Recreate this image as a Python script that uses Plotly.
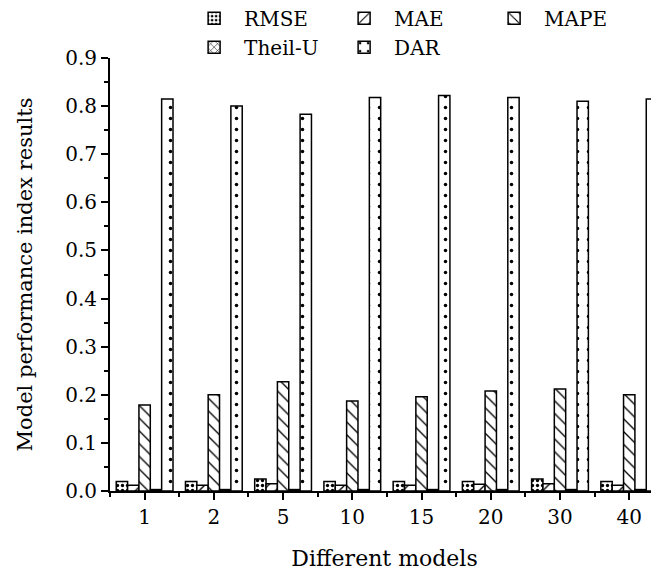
import plotly.graph_objects as go

models = ["1", "2", "5", "10", "15", "20", "30", "40"]
rmse = [0.020, 0.020, 0.025, 0.020, 0.020, 0.020, 0.025, 0.020]
mae = [0.012, 0.012, 0.015, 0.012, 0.012, 0.014, 0.015, 0.012]
mape = [0.179, 0.200, 0.227, 0.187, 0.196, 0.208, 0.212, 0.200]
theil_u = [0.003, 0.003, 0.003, 0.003, 0.003, 0.003, 0.003, 0.003]
dar = [0.815, 0.800, 0.783, 0.818, 0.822, 0.818, 0.810, 0.815]

series = [
    ("RMSE", rmse, dict(shape=".", size=5, solidity=0.35)),
    ("MAE", mae, dict(shape="/", size=9, solidity=0.15)),
    ("MAPE", mape, dict(shape="\\", size=9, solidity=0.15)),
    ("Theil-U", theil_u, dict(shape="x", size=6, solidity=0.2)),
    ("DAR", dar, dict(shape=".", size=11, solidity=0.08)),
]

xpos = list(range(len(models)))
FONT = "DejaVu Serif, Liberation Serif, serif"

fig = go.Figure()
for name, vals, pat in series:
    fig.add_trace(go.Bar(
        name=name, x=xpos, y=vals,
        marker=dict(color="white", line=dict(color="black", width=1.5),
                    pattern=dict(fgcolor="black", bgcolor="white", fillmode="replace", **pat)),
    ))

fig.update_layout(
    width=651, height=563,
    margin=dict(l=102, r=0, t=50, b=80, autoexpand=False),
    paper_bgcolor="white", plot_bgcolor="white",
    barmode="group", bargap=0.18, bargroupgap=0,
    font=dict(family=FONT, size=19, color="black"),
    showlegend=True,
    legend=dict(orientation="h", x=0.135, xanchor="left", y=1.137, yanchor="top",
                entrywidth=85, entrywidthmode="pixels", font=dict(size=20, family=FONT),
                bgcolor="rgba(0,0,0,0)", traceorder="normal", itemwidth=50, tracegroupgap=0),
    xaxis=dict(range=[-0.5, 7.43], tickmode="array", tickvals=xpos, ticktext=models,
               automargin=False,
               showline=True, linecolor="black", linewidth=2, ticks="outside", ticklen=7,
               tickwidth=2, tickcolor="black", showgrid=False, zeroline=False,
               minor=dict(tickmode="linear", tick0=0.5, dtick=1, ticks="outside", ticklen=4,
                          tickwidth=2, tickcolor="black", showgrid=False),
               title=dict(text="Different models", font=dict(size=22), standoff=23),
               tickfont=dict(size=20)),
    yaxis=dict(range=[0, 0.9], dtick=0.1, tickformat=".1f", showline=True, linecolor="black",
               automargin=False,
               linewidth=2, ticks="outside", ticklen=7, tickwidth=2, tickcolor="black",
               showgrid=False, zeroline=False,
               minor=dict(dtick=0.05, ticks="outside", ticklen=4, tickwidth=2, tickcolor="black", showgrid=False),
               title=dict(text="Model performance index results", font=dict(size=21), standoff=27),
               tickfont=dict(size=20)),
)

fig.write_html("out.html")
